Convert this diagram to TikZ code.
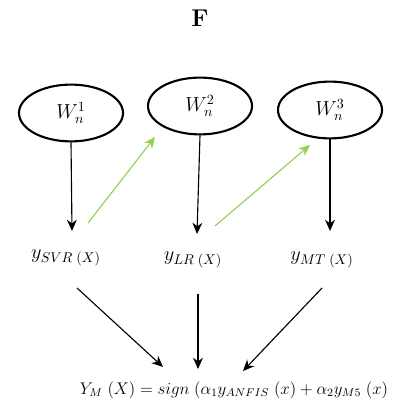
\documentclass[tikz,border=0pt]{standalone}
\usetikzlibrary{shapes.geometric,arrows.meta}

\definecolor{verde}{RGB}{146,208,80}

\begin{document}
\begin{tikzpicture}[x=0.025cm,y=-0.025cm,
  peso/.style={draw, ellipse, line width=1.5pt, minimum width=2.6cm, minimum height=1.42cm, inner sep=0pt},
  flecha/.style={-{Stealth[length=8pt,width=7pt]}, line width=0.8pt},
  flechav/.style={-{Stealth[length=8pt,width=7pt]}, line width=0.8pt, verde}]

\useasboundingbox (0,0) rectangle (400,419);

\node (titulo) at (200,18) {\LARGE\bfseries F};

\node[peso] (w1) at (71,113) {\Large $W_n^1$};   % pesos
\node[peso] (w2) at (200,106) {\Large $W_n^2$};
\node[peso] (w3) at (330,110) {\Large $W_n^3$};

\node (y1) at (66,258) {\Large $y_{SVR\;(X)}$};   % modelos
\node (y2) at (193,260) {\Large $y_{LR\;(X)}$};
\node (y3) at (322,260) {\Large $y_{MT\;(X)}$};

\node (ym) at (234,390) {\large $Y_M\;(X) = sign\;(\alpha_1 y_{ANFIS}\;(x) + \alpha_2 y_{M5}\;(x)$};

\coordinate (a1) at (72,231);
\coordinate (a2) at (197,234);
\coordinate (a3) at (330,231);
\coordinate (g1) at (88,223);
\coordinate (h1) at (155,137);
\coordinate (g2) at (215,226);
\coordinate (h2) at (310,145);
\coordinate (b1) at (77,288);
\coordinate (b2) at (198,294);
\coordinate (b3) at (322,288);
\coordinate (c1) at (163,367);
\coordinate (c2) at (198,369);
\coordinate (c3) at (243,371);

\draw[flecha] (w1.south) -- (a1);
\draw[flecha] (w2.south) -- (a2);
\draw[flecha] (w3.south) -- (a3);

\draw[flechav] (g1) -- (h1);
\draw[flechav] (g2) -- (h2);

\draw[flecha] (b1) -- (c1);
\draw[flecha] (b2) -- (c2);
\draw[flecha] (b3) -- (c3);

\end{tikzpicture}
\end{document}
